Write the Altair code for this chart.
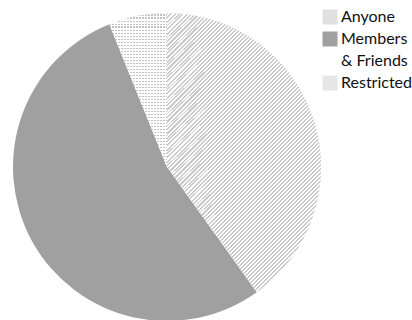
import math
import altair as alt
import pandas as pd

# ---- data ----
categories = ["Anyone", "Members & Friends", "Restricted"]
shares = [40.1, 53.8, 6.1]          # percent of the pie
order_idx = [0, 1, 2]
legend_grays = ["#e0e0e0", "#a0a0a0", "#e6e6e6"]

df = pd.DataFrame({"cat": categories, "share": shares, "idx": order_idx})

R = 154
total = sum(shares)


def stripes(c1, c2, n, frac, x2, y2):
    stops = []
    for i in range(n):
        a = round(i / n, 6)
        b = round((i + frac) / n, 6)
        c = round((i + 1) / n, 6)
        stops += [
            {"offset": a, "color": c1},
            {"offset": b, "color": c1},
            {"offset": b, "color": c2},
            {"offset": c, "color": c2},
        ]
    return {"gradient": "linear", "x1": 0, "y1": 0, "x2": round(x2, 5), "y2": round(y2, 5), "stops": stops}


# pattern geometry (bounding boxes of the slices, for the 45deg hatch)
ang_a = 2 * math.pi * shares[0] / total
w_a = R if ang_a >= math.pi / 2 else R * math.sin(ang_a)
h_a = R - R * math.cos(ang_a)
per = 4.0
n_a = math.ceil((w_a + h_a) / per)
ratio = w_a / h_a
k0 = (ratio + 1) / (ratio ** 2 + 1)
k = k0 * per * n_a / (w_a + h_a)
hatch_any = stripes("#cbcbcb", "#ffffff", n_a, 0.5, ratio * k, k)

ang_r = 2 * math.pi * shares[2] / total
w_r = R * math.sin(ang_r)
h_r = R
dper = 3.0
n_v = math.ceil(w_r / dper)
n_h = math.ceil(h_r / dper)
dots_v = stripes("#c2c2c2", "#ffffff", n_v, 0.5, dper * n_v / w_r, 0)
dots_h = stripes("#ffffff", "rgba(255,255,255,0)", n_h, 0.5, 0, dper * n_h / h_r)

base = alt.Chart(df)
theta = alt.Theta("share:Q", stack=True)
order = alt.Order("idx:Q")

solid = base.mark_arc(radius=R).encode(
    theta=theta,
    order=order,
    color=alt.Color(
        "cat:N",
        sort=categories,
        scale=alt.Scale(domain=categories, range=legend_grays),
        legend=alt.Legend(
            title=None,
            orient="none",
            legendX=309,
            legendY=-4,
            symbolType="square",
            symbolSize=225,
            symbolStrokeWidth=0,
            labelFont="Lato",
            labelFontSize=16,
            labelColor="#111111",
            labelOffset=3,
            rowPadding=6,
            padding=0,
            labelExpr="datum.label == 'Members & Friends' ? ['Members', '& Friends'] : datum.label",
        ),
    ),
)

pattern1 = base.mark_arc(radius=R).encode(
    theta=theta,
    order=order,
    detail="cat:N",
    fill=alt.FillValue(
        value="transparent",
        condition=[
            {"test": "datum.cat === 'Anyone'", "value": hatch_any},
            {"test": "datum.cat === 'Restricted'", "value": dots_v},
        ],
    ),
)

pattern2 = base.mark_arc(radius=R).encode(
    theta=theta,
    order=order,
    detail="cat:N",
    fill=alt.FillValue(
        value="transparent",
        condition=[{"test": "datum.cat === 'Restricted'", "value": dots_h}],
    ),
)

chart = (
    alt.layer(solid, pattern1, pattern2)
    .properties(
        width=308,
        height=308,
        padding={"left": 13, "top": 13, "right": 91, "bottom": 0},
        autosize=alt.AutoSizeParams(type="none"),
    )
    .configure(style={"guide-label": {"lineHeight": 22}})
    .configure_view(stroke=None)
)

chart.save("out.html", embed_options={"renderer": "svg", "actions": False})
